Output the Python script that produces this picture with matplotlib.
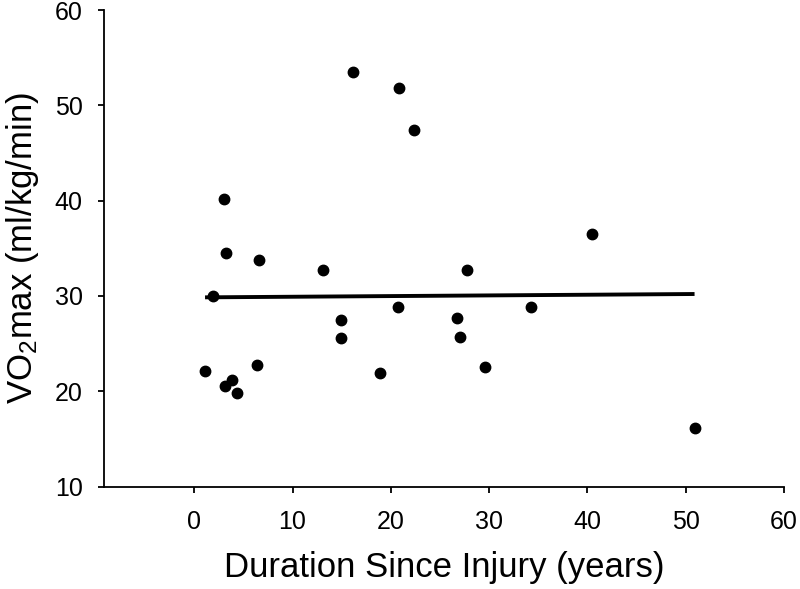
import matplotlib
matplotlib.use('Agg')
import matplotlib.pyplot as plt
import numpy as np

plt.rcParams['font.family'] = ['Liberation Sans', 'DejaVu Sans']
plt.rcParams['mathtext.fontset'] = 'custom'
plt.rcParams['mathtext.rm'] = 'Liberation Sans'
plt.rcParams['mathtext.it'] = 'Liberation Sans'

##### datos
years = [16.2, 20.8, 22.4, 3.0, 3.2, 6.6, 13.1, 1.9, 20.7, 14.9, 14.9, 1.1,
         6.4, 18.9, 3.8, 3.1, 4.4, 40.5, 27.8, 34.3, 26.7, 27.0, 29.6, 50.9]
vo2 = [53.5, 51.8, 47.4, 40.2, 34.5, 33.8, 32.7, 30.0, 28.8, 27.5, 25.6, 22.1,
       22.7, 21.9, 21.2, 20.5, 19.8, 36.5, 32.7, 28.8, 27.7, 25.7, 22.5, 16.1]
fit_x = [1.1, 50.9]
fit_y = [29.85, 30.2]

xticks = [0, 10, 20, 30, 40, 50, 60]
yticks = [10, 20, 30, 40, 50, 60]

fig = plt.figure(figsize=(8, 5.89), dpi=100)
ax = fig.add_axes([0.13, 0.174, 0.85, 0.809])

ax.plot(fit_x, fit_y, color='black', lw=2.8, solid_capstyle='butt', zorder=2)
ax.plot(years, vo2, 'o', color='black', ms=7.5, zorder=3)

ax.set_xlim(-9.18, 60)
ax.set_ylim(10, 60)
ax.set_xticks(xticks)
ax.set_yticks(yticks)

for s in ['top', 'right']:
    ax.spines[s].set_visible(False)
for s in ['left', 'bottom']:
    ax.spines[s].set_linewidth(1.3)
ax.tick_params(direction='out', length=4.3, width=1.3, labelsize=18)
ax.tick_params(axis='x', pad=12.5)
ax.tick_params(axis='y', pad=11)

ax.set_xlabel('Duration Since Injury (years)', fontsize=25)
ax.set_ylabel(r'VO$_2$max (ml/kg/min)', fontsize=25)
ax.xaxis.set_label_coords(0.5, -0.135)
ax.yaxis.set_label_coords(-0.092, 0.5)

fig.savefig('out.png', dpi=100)
